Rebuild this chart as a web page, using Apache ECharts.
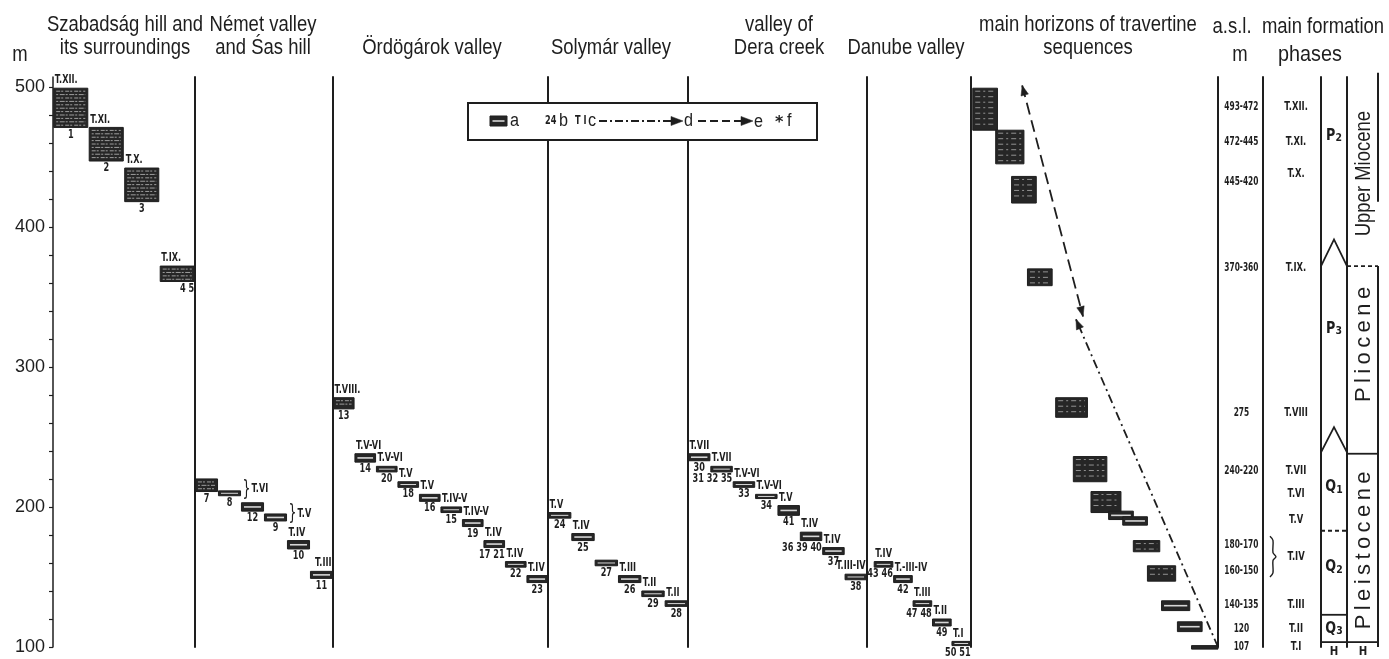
<!DOCTYPE html>
<html>
<head>
<meta charset="utf-8">
<title>Travertine horizons</title>
<script src="https://cdn.jsdelivr.net/npm/echarts@6.0.0/dist/echarts.min.js"></script>
<style>
html,body{margin:0;padding:0;background:#ffffff;}
#chart{width:1389px;height:659px;}
</style>
</head>
<body>
<div id="chart"></div>
<script>
// ================= DATA =================
const elevTickLabels = [100, 200, 300, 400, 500];
const elevTickMarks = [100,120,140,160,180,200,220,240,260,280,300,320,340,360,380,400,420,440,460,480,500];

const columnTitles = [
  ['Szabadság hill and', 'its surroundings'],
  ['Német valley', 'and Śas hill'],
  ['', 'Ördögárok valley'],
  ['', 'Solymár valley'],
  ['valley of', 'Dera creek'],
  ['', 'Danube valley'],
  ['main horizons of travertine', 'sequences']
];

// Szabadság hill and its surroundings
const szabSites = ['1', '2', '3', '4 5'];
const szabTerr  = ['T.XII.', 'T.XI.', 'T.X.', 'T.IX.'];
const szabLow   = [471, 447, 418, 361];
const szabHigh  = [499, 471, 442, 372];

// Német valley and Śas hill
const nemetSites = ['7', '8', '12', '9', '10', '11'];
const nemetTerr  = ['', '} T.VI', '', '} T.V', 'T.IV', 'T.III'];
const nemetLow   = [211, 208, 197, 190, 170, 149];
const nemetHigh  = [220, 211.5, 203, 195, 176, 154];

// Ördögárok valley
const ordoSites = ['13', '14', '20', '18', '16', '15', '19', '17 21', '22', '23'];
const ordoTerr  = ['T.VIII.', 'T.V-VI', 'T.V-VI', 'T.V', 'T.V', 'T.IV-V', 'T.IV-V', 'T.IV', 'T.IV', 'T.IV'];
const ordoLow   = [270, 232, 225, 214, 204, 196, 186, 171, 157, 146];
const ordoHigh  = [278, 238, 229, 218, 209, 200, 191, 176, 161, 151];

// Solymár valley
const solySites = ['24', '25', '27', '26', '29', '28'];
const solyTerr  = ['T.V', 'T.IV', '', 'T.III', 'T.II', 'T.II'];
const solyLow   = [192, 176, 158, 146, 136, 129];
const solyHigh  = [196, 181, 162, 151, 140, 133];

// valley of Dera creek
const deraSites = ['30', '31 32 35', '33', '34', '41', '36 39 40', '37', '38'];
const deraTerr  = ['T.VII', 'T.VII', 'T.V-VI', 'T.V-VI', 'T.V', 'T.IV', 'T.IV', 'T.III-IV'];
const deraLow   = [233, 225, 214, 206, 194, 176, 166, 148];
const deraHigh  = [238, 229, 218, 209, 201, 182, 171, 152];

// Danube valley
const danubeSites = ['43 46', '42', '47 48', '49', '50 51'];
const danubeTerr  = ['T.IV', 'T.-III-IV', 'T.III', 'T.II', 'T.I'];
const danubeLow   = [157, 146, 129, 115, 101];
const danubeHigh  = [161, 151, 133, 120, 104];

// main horizons of travertine sequences (horizontal order position, elevation range)
const horizonFrom = [0.1, 1.4, 2.3, 3.2, 4.8, 5.8, 6.8, 7.8, 8.6, 9.2, 10.0, 10.8, 11.7, 12.5];
const horizonTo   = [1.5, 3.0, 3.7, 4.6, 6.6, 7.7, 8.5, 9.2, 10.0, 10.7, 11.6, 12.4, 13.1, 14.0];
const horizonLow  = [469, 445, 417, 358, 264, 218, 196, 191, 187, 168, 147, 126, 111, 98.5];
const horizonHigh = [499, 469, 436, 370, 278, 236, 211, 197, 193, 176, 158, 133, 118, 101];

// trend arrows in the horizons column
const trendFromX = [2.9, 14.0];
const trendFromY = [501, 100];
const trendToX   = [6.35, 5.95];
const trendToY   = [336, 334];
const trendDash  = ['dashed', 'dashdot'];
const trendHeads = ['both', 'end'];

// table: a.s.l. (m) and terrace
const aslText = ['493-472', '472-445', '445-420', '370-360', '275', '240-220', '180-170', '160-150', '140-135', '120', '107'];
const aslAt   = [486, 461, 432, 371, 267, 226, 173, 154, 130, 113, 100];
const terraceText = ['T.XII.', 'T.XI.', 'T.X.', 'T.IX.', 'T.VIII', 'T.VII', 'T.VI', 'T.V', 'T.IV', 'T.III', 'T.II', 'T.I'];
const terraceAt   = [486, 461, 438, 371, 267, 226, 209, 191, 164, 130, 113, 100];
const terraceBrace = [179, 150];

// main formation phases
const phaseName   = ['P|2', 'P|3', 'Q|1', 'Q|2', 'Q|3', 'H|'];
const phaseAt     = [465, 327, 214, 157, 113, 96.5];
const phaseBound  = [372, 239, 183, 123, 103.5];
const phasePeak   = [391, 257, null, null, null];
const phaseStyle  = ['peak', 'peak', 'dashed', 'solid', 'solid'];
const epochName   = ['Upper Miocene', 'Pliocene', 'Pleistocene', 'H'];
const epochAt     = [438, 316, 169, 96.5];
const epochBound  = [372, 238, 103.5];
const epochStyle  = ['dashed', 'solid', 'solid'];
const epochRuleFrom = [510, 372];
const epochRuleTo   = [418, 100];

// ================= LAYOUT / STYLE =================
const INK = '#1e1e1e';
const EDGES = [53, 195, 333, 548, 688, 867, 971, 1218, 1263, 1321, 1347, 1378];
const TOP = 77, HEIGHT = 570;
const XMIN = [0, 0, 0, 0, 0, -0.35, 0, 0, 0, 0, 0];
const XMAX = [4, 6, 10, 6, 8, 5, 14, 1, 1, 1, 1];
const SMALL = 'bold 12px "DejaVu Sans", sans-serif';
const SQ = 0.68;
const HEADFONT = '"Liberation Sans", Arial, sans-serif';

function label(x, y, text, align, vAlign, font, sq) {
  return {type: 'text', x: x, y: y, scaleX: sq || 1,
    style: {text: text, font: font, fill: INK, align: align, verticalAlign: vAlign}};
}

function hatch(x, y, w, h, kind) {
  const els = [{type: 'rect', shape: {x: x, y: y, width: w, height: h},
    style: {fill: '#262626', stroke: INK, lineWidth: 1}}];
  if (h < 4) return els;
  if (h < 11) {
    els.push({type: 'line', shape: {x1: x + 2.5, y1: y + h / 2, x2: x + w - 2.5, y2: y + h / 2},
      style: {stroke: '#d6d6d6', lineWidth: h < 7 ? 1 : 1.6}});
  } else {
    const sparse = kind === 'sparse';
    const step = sparse ? 5.5 : 3.4;
    let n = 0;
    for (let yy = y + 3; yy < y + h - 2; yy += step) {
      els.push({type: 'line', shape: {x1: x + 2.5, y1: yy, x2: x + w - 2.5, y2: yy},
        style: {stroke: sparse ? '#b0b0b0' : '#bdbdbd', lineWidth: 0.8,
          lineDash: sparse ? [5, 3, 2, 3] : (n % 2 ? [2, 1.5, 5, 1] : [4, 1, 2, 2])}});
      n++;
    }
  }
  return els;
}

function arrowHead(p0, p1, size) {
  const dx = p1[0] - p0[0], dy = p1[1] - p0[1];
  const L = Math.sqrt(dx * dx + dy * dy) || 1;
  const ux = dx / L, uy = dy / L;
  const bx = p1[0] - ux * size, by = p1[1] - uy * size;
  const s = size * 0.38;
  return {type: 'polygon', shape: {points: [[p1[0], p1[1]], [bx - uy * s, by + ux * s], [bx + uy * s, by - ux * s]]},
    style: {fill: INK, stroke: INK, lineWidth: 0.5}};
}

function boxRenderer(sites, terr, kind) {
  return function (params, api) {
    const i = params.dataIndex;
    const tl = api.coord([api.value(0), api.value(3)]);
    const br = api.coord([api.value(1), api.value(2)]);
    const x = tl[0], y = tl[1], w = br[0] - tl[0], h = br[1] - tl[1];
    const colRight = params.coordSys.x + params.coordSys.width;
    const ch = hatch(x, y, w, h, kind);
    const t = terr ? terr[i] : '';
    if (t) {
      if (t.charAt(0) === '}') {
        ch.push(label(x + w + 2, y + h / 2 - 4, '}', 'left', 'middle', '21px "DejaVu Sans", sans-serif', 0.6));
        ch.push(label(x + w + 11, y + h / 2 - 4, t.slice(2), 'left', 'middle', SMALL, SQ));
      } else {
        const estW = t.length * 4.9;
        if (x + 1 + estW > colRight + 1) ch.push(label(Math.min(x + w, colRight) - 1, y - 2, t, 'right', 'bottom', SMALL, SQ));
        else ch.push(label(x + 1, y - 2, t, 'left', 'bottom', SMALL, SQ));
      }
    }
    const s = sites ? sites[i] : '';
    if (s) {
      if (s.indexOf(' ') >= 0) ch.push(label(x + w, y + h + 1, s, 'right', 'top', SMALL, SQ));
      else ch.push(label(x + w / 2, y + h + 1, s, 'center', 'top', SMALL, SQ));
    }
    return {type: 'group', children: ch};
  };
}

// ================= BUILD =================
const grids = [], xAxes = [], yAxes = [], series = [];
for (let k = 0; k < EDGES.length - 1; k++) {
  grids.push({left: EDGES[k], top: TOP, width: EDGES[k + 1] - EDGES[k], height: HEIGHT, outerBoundsMode: 'none'});
  xAxes.push({gridIndex: k, type: 'value', min: XMIN[k], max: XMAX[k], show: false});
  if (k === 0) {
    yAxes.push({gridIndex: 0, type: 'value', min: 100, max: 507, position: 'left',
      axisLine: {show: true, onZero: false, lineStyle: {color: INK, width: 1.5}},
      axisTick: {show: true, customValues: elevTickMarks, length: 4, lineStyle: {color: INK, width: 1.2}},
      axisLabel: {show: true, customValues: elevTickLabels, margin: 8, color: INK, fontSize: 18,
        fontFamily: '"Liberation Sans Narrow", "Liberation Sans", sans-serif'},
      splitLine: {show: false}});
  } else {
    yAxes.push({gridIndex: k, type: 'value', min: 100, max: 507, position: 'left',
      axisLine: {show: true, onZero: false, lineStyle: {color: INK, width: 2}},
      axisTick: {show: false}, axisLabel: {show: false}, splitLine: {show: false}});
  }
}

const boxColumns = [
  [szabSites, szabTerr, szabLow, szabHigh, 'dense'],
  [nemetSites, nemetTerr, nemetLow, nemetHigh, 'dense'],
  [ordoSites, ordoTerr, ordoLow, ordoHigh, 'dense'],
  [solySites, solyTerr, solyLow, solyHigh, 'dense'],
  [deraSites, deraTerr, deraLow, deraHigh, 'dense'],
  [danubeSites, danubeTerr, danubeLow, danubeHigh, 'dense']
];
boxColumns.forEach(function (c, k) {
  series.push({type: 'custom', xAxisIndex: k, yAxisIndex: k, clip: false, z: 5,
    data: c[2].map(function (v, i) { return [i + 0.02, i + 0.98, v, c[3][i]]; }),
    encode: {x: [0, 1], y: [2, 3]},
    renderItem: boxRenderer(c[0], c[1], c[4])});
});

// horizons column
series.push({type: 'custom', xAxisIndex: 6, yAxisIndex: 6, clip: false, z: 5,
  data: horizonLow.map(function (v, i) { return [horizonFrom[i], horizonTo[i], v, horizonHigh[i]]; }),
  encode: {x: [0, 1], y: [2, 3]},
  renderItem: boxRenderer(null, null, 'sparse')});

// trend arrows
series.push({type: 'custom', xAxisIndex: 6, yAxisIndex: 6, clip: false, z: 6,
  data: trendFromX.map(function (v, i) { return [v, trendFromY[i], trendToX[i], trendToY[i]]; }),
  encode: {x: [0, 2], y: [1, 3]},
  renderItem: function (params, api) {
    const i = params.dataIndex;
    const p0 = api.coord([api.value(0), api.value(1)]);
    const p1 = api.coord([api.value(2), api.value(3)]);
    const dash = trendDash[i] === 'dashdot' ? [9, 4, 2, 4] : [12, 6];
    const ch = [{type: 'line', shape: {x1: p0[0], y1: p0[1], x2: p1[0], y2: p1[1]},
      style: {stroke: INK, lineWidth: 1.8, lineDash: dash}}];
    ch.push(arrowHead(p0, p1, 10));
    if (trendHeads[i] === 'both') ch.push(arrowHead(p1, p0, 10));
    return {type: 'group', children: ch};
  }});

// a.s.l. column
series.push({type: 'custom', xAxisIndex: 7, yAxisIndex: 7, clip: false, z: 5,
  data: aslAt.map(function (v) { return [0.52, v]; }), encode: {x: 0, y: 1},
  renderItem: function (params, api) {
    const p = api.coord([api.value(0), api.value(1)]);
    return label(p[0], p[1], aslText[params.dataIndex], 'center', 'middle', 'bold 12px "DejaVu Sans", sans-serif', 0.62);
  }});

// terrace column
series.push({type: 'custom', xAxisIndex: 8, yAxisIndex: 8, clip: false, z: 5,
  data: terraceAt.map(function (v) { return [0.57, v]; }), encode: {x: 0, y: 1},
  renderItem: function (params, api) {
    const p = api.coord([api.value(0), api.value(1)]);
    return label(p[0], p[1], terraceText[params.dataIndex], 'center', 'middle', 'bold 12px "DejaVu Sans", sans-serif', 0.7);
  }});
series.push({type: 'custom', xAxisIndex: 8, yAxisIndex: 8, clip: false, z: 5,
  data: [[0.12, terraceBrace[0], terraceBrace[1]]], encode: {x: 0, y: [1, 2]},
  renderItem: function (params, api) {
    const a = api.coord([api.value(0), api.value(1)]);
    const b = api.coord([api.value(0), api.value(2)]);
    const x = a[0], t = a[1], bt = b[1], m = (t + bt) / 2;
    return {type: 'polyline', shape: {points: [[x, t], [x + 3, t + 4], [x + 3, m - 4], [x + 6, m], [x + 3, m + 4], [x + 3, bt - 4], [x, bt]], smooth: 0.3},
      style: {stroke: INK, lineWidth: 1.4, fill: null}};
  }});

// phase boundaries
function boundRenderer(styles, peaks) {
  return function (params, api) {
    const i = params.dataIndex, m = api.value(0);
    const L = api.coord([0, m]), R = api.coord([1, m]);
    if (styles[i] === 'peak') {
      const P = api.coord([0.5, peaks[i]]);
      return {type: 'polyline', shape: {points: [L, P, R]}, style: {stroke: INK, lineWidth: 1.8, fill: null}};
    }
    return {type: 'line', shape: {x1: L[0], y1: L[1], x2: R[0], y2: R[1]},
      style: {stroke: INK, lineWidth: 1.8, lineDash: styles[i] === 'dashed' ? [4, 3] : null}};
  };
}
series.push({type: 'custom', xAxisIndex: 9, yAxisIndex: 9, clip: false, z: 5,
  data: phaseBound.map(function (v) { return [v]; }), encode: {y: 0},
  renderItem: boundRenderer(phaseStyle, phasePeak)});
series.push({type: 'custom', xAxisIndex: 10, yAxisIndex: 10, clip: false, z: 5,
  data: epochBound.map(function (v) { return [v]; }), encode: {y: 0},
  renderItem: boundRenderer(epochStyle, [])});
// right rule of epoch column
series.push({type: 'custom', xAxisIndex: 10, yAxisIndex: 10, clip: false, z: 5,
  data: epochRuleFrom.map(function (v, i) { return [1, v, epochRuleTo[i]]; }), encode: {x: 0, y: [1, 2]},
  renderItem: function (params, api) {
    const a = api.coord([1, api.value(1)]), b = api.coord([1, api.value(2)]);
    return {type: 'line', shape: {x1: a[0], y1: a[1], x2: b[0], y2: b[1]}, style: {stroke: INK, lineWidth: 2}};
  }});
// phase labels
series.push({type: 'custom', xAxisIndex: 9, yAxisIndex: 9, clip: false, z: 5,
  data: phaseAt.map(function (v) { return [0.5, v]; }), encode: {x: 0, y: 1},
  renderItem: function (params, api) {
    const p = api.coord([api.value(0), api.value(1)]);
    const parts = phaseName[params.dataIndex].split('|');
    const isH = parts[0] === 'H';
    const txt = '{m|' + parts[0] + '}' + (parts[1] ? '{s|' + parts[1] + '}' : '');
    return {type: 'text', x: p[0], y: p[1], scaleX: 0.85,
      style: {text: txt, align: 'center', verticalAlign: 'middle', fill: INK,
        rich: {m: {font: (isH ? 'bold 12px' : 'bold 15px') + ' "DejaVu Sans", sans-serif', lineHeight: 16, verticalAlign: 'middle'},
               s: {font: 'bold 11px "DejaVu Sans", sans-serif', lineHeight: 16, verticalAlign: 'bottom', padding: [6, 0, 0, 0]}}}};
  }});
// epoch labels
series.push({type: 'custom', xAxisIndex: 10, yAxisIndex: 10, clip: false, z: 5,
  data: epochAt.map(function (v) { return [0.55, v]; }), encode: {x: 0, y: 1},
  renderItem: function (params, api) {
    const p = api.coord([api.value(0), api.value(1)]);
    const name = epochName[params.dataIndex];
    if (name === 'H') return label(p[0] - 1, p[1], 'H', 'center', 'middle', 'bold 12px "DejaVu Sans", sans-serif', 0.85);
    const spaced = name === 'Upper Miocene' ? name : name.split('').join('\u2009');
    return {type: 'text', x: p[0], y: p[1], rotation: Math.PI / 2, scaleX: name === 'Upper Miocene' ? 0.84 : 1,
      style: {text: spaced, font: '22px ' + HEADFONT, fill: INK, align: 'center', verticalAlign: 'middle'}};
  }});

// ================= TEXT / LEGEND (graphic) =================
const graphics = [];
function head(x, y, text, sq) {
  graphics.push({type: 'text', x: x, y: y, scaleX: sq || 0.84, z: 100,
    style: {text: text, font: '22px ' + HEADFONT, fill: INK, align: 'center', verticalAlign: 'middle'}});
}
const TITLE_X = [125, 263, 432, 611, 779, 906, 1088];
columnTitles.forEach(function (t, k) {
  if (t[0]) head(TITLE_X[k], 24.5, t[0]);
  if (t[1]) head(TITLE_X[k], 47.5, t[1]);
});
head(20, 54.5, 'm');
head(1232, 27, 'a.s.l.');
head(1323, 27, 'main formation', 0.84);
head(1240, 55, 'm');
head(1310, 55, 'phases', 0.9);

// legend box
const legendEls = [];
legendEls.push({type: 'rect', shape: {x: 468, y: 103, width: 349, height: 37}, style: {fill: '#fff', stroke: INK, lineWidth: 2}});
hatch(490, 116, 17, 10, 'dense').forEach(function (e) { legendEls.push(e); });
const LF = '18px ' + HEADFONT;
legendEls.push(label(510, 121, 'a', 'left', 'middle', LF, 0.9));
legendEls.push(label(545, 121, '24', 'left', 'middle', SMALL, SQ));
legendEls.push(label(559, 121, 'b', 'left', 'middle', LF, 0.9));
legendEls.push(label(575, 121, 'T I', 'left', 'middle', SMALL, SQ));
legendEls.push(label(588, 121, 'c', 'left', 'middle', LF, 0.9));
legendEls.push({type: 'line', shape: {x1: 599, y1: 121, x2: 672, y2: 121}, style: {stroke: INK, lineWidth: 2, lineDash: [8, 3, 2, 3]}});
legendEls.push(arrowHead([599, 121], [683, 121], 12));
legendEls.push(label(684, 121, 'd', 'left', 'middle', LF, 0.9));
legendEls.push({type: 'line', shape: {x1: 698, y1: 121, x2: 742, y2: 121}, style: {stroke: INK, lineWidth: 2, lineDash: [8, 4]}});
legendEls.push(arrowHead([698, 121], [753, 121], 12));
legendEls.push(label(754, 122, 'e', 'left', 'middle', LF, 0.9));
legendEls.push(label(775, 123, '*', 'left', 'middle', 'bold 16px "DejaVu Sans", sans-serif', 1));
legendEls.push(label(787, 121, 'f', 'left', 'middle', LF, 0.9));
legendEls.forEach(function (e) { e.z = 100; graphics.push(e); });

const chart = echarts.init(document.getElementById('chart'), null, {renderer: 'canvas'});
chart.setOption({
  animation: false,
  backgroundColor: '#ffffff',
  grid: grids,
  xAxis: xAxes,
  yAxis: yAxes,
  series: series,
  graphic: {elements: graphics}
});
</script>
</body>
</html>
